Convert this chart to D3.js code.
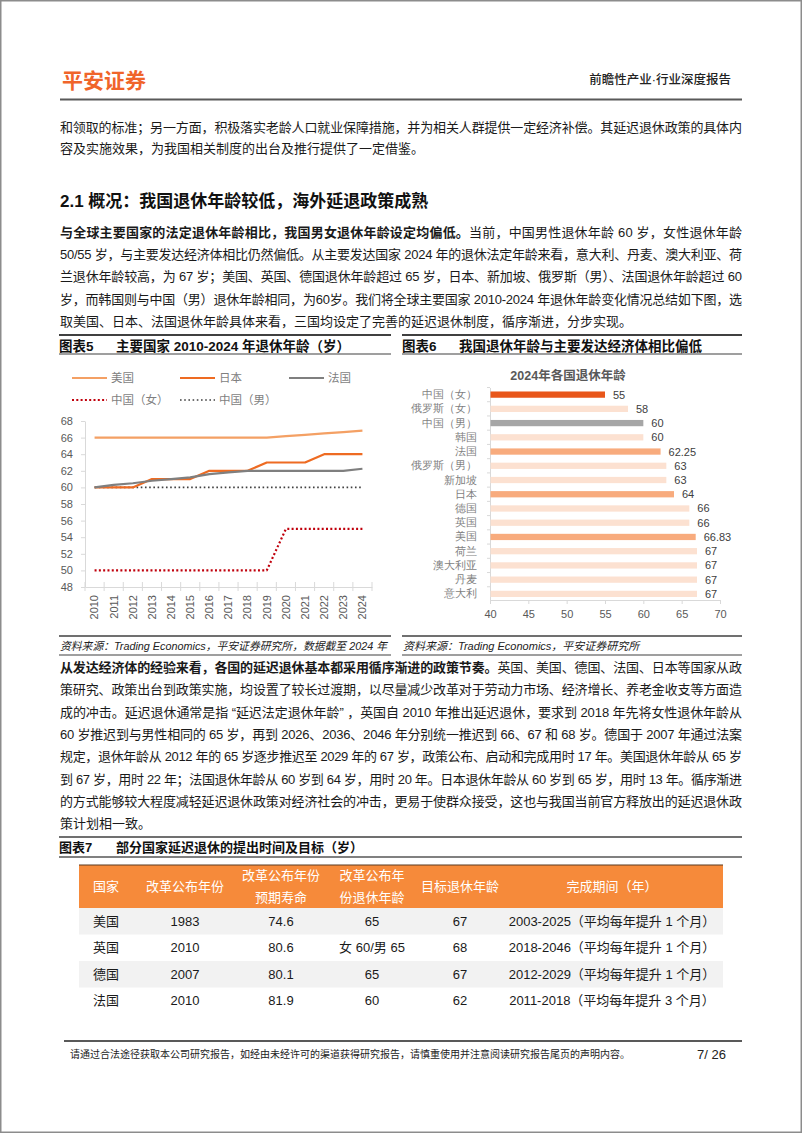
<!DOCTYPE html>
<html><head><meta charset="utf-8">
<script src="https://cdn.jsdelivr.net/npm/d3@7"></script>
<style>body{margin:0;background:#fff}svg{display:block}</style>
</head><body>
<script>
// ---------- data ----------
const years = ["2010","2011","2012","2013","2014","2015","2016","2017","2018","2019","2020","2021","2022","2023","2024"];
const usa    = [66,66,66,66,66,66,66,66,66,66,66.17,66.33,66.5,66.67,66.83];
const japan  = [60,60,60,61,61,61,62,62,62,63,63,63,64,64,64];
const france = [60,60.3,60.5,60.8,61,61.2,61.6,61.8,62,62,62,62,62,62,62.25];
const cnFemale = [50,50,50,50,50,50,50,50,50,50,55,55,55,55,55];
const cnMale   = [60,60,60,60,60,60,60,60,60,60,60,60,60,60,60];
const lineNames = ["美国","日本","法国","中国（女）","中国（男）"];
const yTicks = [48,50,52,54,56,58,60,62,64,66,68];

const barCats = ["中国（女）","俄罗斯（女）","中国（男）","韩国","法国","俄罗斯（男）","新加坡","日本","德国","英国","美国","荷兰","澳大利亚","丹麦","意大利"];
const barVals = [55,58,60,60,62.25,63,63,64,66,66,66.83,67,67,67,67];
const barTicks = [40,45,50,55,60,65,70];

const tblHead = [["国家"],["改革公布年份"],["改革公布年份","预期寿命"],["改革公布年","份退休年龄"],["目标退休年龄"],["完成期间（年）"]];
const tblCountry = ["美国","英国","德国","法国"];
const tblYear = ["1983","2010","2007","2010"];
const tblLife = ["74.6","80.6","80.1","81.9"];
const tblAge = ["65","女 60/男 65","65","60"];
const tblTarget = ["67","68","67","62"];
const tblPeriod = ["2003-2025（平均每年提升 1 个月）","2018-2046（平均每年提升 1 个月）","2012-2029（平均每年提升 1 个月）","2011-2018（平均每年提升 3 个月）"];

// ---------- page ----------
const W=802,H=1133;
const svg=d3.select("body").append("svg").attr("width",W).attr("height",H)
  .style("font-family","'Liberation Sans','Noto Sans CJK SC',sans-serif");
svg.append("rect").attr("x",0).attr("y",0).attr("width",W).attr("height",H).attr("fill","#fff");
svg.append("rect").attr("x",0.75).attr("y",0.75).attr("width",W-1.5).attr("height",H-1.5).attr("fill","none").attr("stroke","#8c8c8c").attr("stroke-width",1.5);

// header
svg.append("text").attr("x",62).attr("y",80).attr("dominant-baseline","central")
  .style("font-size","21px").style("font-weight","bold").attr("fill","#F0642A").text("平安证券");
svg.append("text").attr("x",731).attr("y",80).attr("dominant-baseline","central").attr("text-anchor","end")
  .style("font-size","12.5px").style("font-weight","500").attr("fill","#222").text("前瞻性产业·行业深度报告");
svg.append("line").attr("x1",60).attr("x2",742).attr("y1",99.5).attr("y2",99.5).attr("stroke","#595959").attr("stroke-width",2);

function textLine(y, parts, justify){
  const t=svg.append("text").attr("x",60).attr("y",y).attr("dominant-baseline","central")
    .style("font-size","13px").attr("fill","#1a1a1a");
  parts.forEach(p=>t.append("tspan").text(p[0]).style("font-weight",p[1]?"bold":"normal"));
  if(justify) t.attr("textLength",682).attr("lengthAdjust","spacing");
}
textLine(127,[["和领取的标准；另一方面，积极落实老龄人口就业保障措施，并为相关人群提供一定经济补偿。其延迟退休政策的具体内"]],true);
textLine(148,[["容及实施效果，为我国相关制度的出台及推行提供了一定借鉴。"]],false);

svg.append("text").attr("x",60).attr("y",201).attr("dominant-baseline","central")
  .style("font-size","17px").style("font-weight","bold").attr("fill","#111").text("2.1 概况：我国退休年龄较低，海外延退政策成熟");

textLine(232,[["与全球主要国家的法定退休年龄相比，我国男女退休年龄设定均偏低。",1],["当前，中国男性退休年龄 60 岁，女性退休年龄"]],true);
textLine(254,[["50/55 岁，与主要发达经济体相比仍然偏低。从主要发达国家 2024 年的退休法定年龄来看，意大利、丹麦、澳大利亚、荷"]],true);
textLine(276,[["兰退休年龄较高，为 67 岁；美国、英国、德国退休年龄超过 65 岁，日本、新加坡、俄罗斯（男）、法国退休年龄超过 60"]],true);
textLine(299,[["岁，而韩国则与中国（男）退休年龄相同，为60岁。我们将全球主要国家 2010-2024 年退休年龄变化情况总结如下图，选"]],true);
textLine(321,[["取美国、日本、法国退休年龄具体来看，三国均设定了完善的延迟退休制度，循序渐进，分步实现。"]],false);

function figTitle(x1,x2,yTop,num,title){
  svg.append("line").attr("x1",x1).attr("x2",x2).attr("y1",yTop).attr("y2",yTop).attr("stroke","#404040").attr("stroke-width",2);
  svg.append("line").attr("x1",x1).attr("x2",x2).attr("y1",yTop+19).attr("y2",yTop+19).attr("stroke","#404040").attr("stroke-width",1.2);
  svg.append("text").attr("x",x1).attr("y",yTop+11).attr("dominant-baseline","central")
    .style("font-size","13.5px").style("font-weight","bold").attr("fill","#111").text(num);
  svg.append("text").attr("x",x1+57).attr("y",yTop+11).attr("dominant-baseline","central")
    .style("font-size","13.5px").style("font-weight","bold").attr("fill","#111").text(title);
}
function source(x1,x2,yTop,txt,len){
  svg.append("line").attr("x1",x1).attr("x2",x2).attr("y1",yTop).attr("y2",yTop).attr("stroke","#404040").attr("stroke-width",1.5);
  svg.append("line").attr("x1",x1).attr("x2",x2).attr("y1",yTop+19).attr("y2",yTop+19).attr("stroke","#404040").attr("stroke-width",1.2);
  const t=svg.append("text").attr("x",x1+1).attr("y",yTop+10).attr("dominant-baseline","central")
    .style("font-size","11px").style("font-style","italic").attr("fill","#222").text(txt);
  if(len) t.attr("textLength",len).attr("lengthAdjust","spacingAndGlyphs");
}
figTitle(59,391,335,"图表5","主要国家 2010-2024 年退休年龄（岁）");
figTitle(402,742,335,"图表6","我国退休年龄与主要发达经济体相比偏低");
source(59,391,636,"资料来源：Trading Economics，平安证券研究所，数据截至 2024 年",327);
source(402,742,636,"资料来源：Trading Economics，平安证券研究所",null);

// ---------- chart 5: lines ----------
const g5=svg.append("g");
const xb=d3.scaleBand().domain(years).range([85,372]);
const xc=d=>xb(d)+xb.bandwidth()/2;
const y5=d3.scaleLinear().domain([48,68]).range([587,421]);
const styles={
  "美国":{c:"#F4A064",w:2.2,d:null},
  "日本":{c:"#EE6B22",w:2.2,d:null},
  "法国":{c:"#7F7F7F",w:2.2,d:null},
  "中国（女）":{c:"#C0000C",w:2.2,d:"2,2.3"},
  "中国（男）":{c:"#404040",w:1.6,d:"1.6,2.6"}
};
const seriesData={"美国":usa,"日本":japan,"法国":france,"中国（女）":cnFemale,"中国（男）":cnMale};

const ay=g5.append("g").attr("transform","translate(85,0)")
  .call(d3.axisLeft(y5).tickValues(yTicks).tickSize(4).tickSizeOuter(0).tickPadding(8));
ay.select(".domain").attr("stroke","#D9D9D9");
ay.selectAll(".tick line").attr("stroke","#D9D9D9");
ay.selectAll("text").style("font-size","11px").attr("fill","#595959").style("font-family","'Liberation Sans',sans-serif");
const ax=g5.append("g").attr("transform","translate(0,587)")
  .call(d3.axisBottom(xb).tickSize(0).tickSizeOuter(0));
ax.select(".domain").attr("stroke","#D9D9D9");
ax.selectAll("text").attr("transform","rotate(-90)").attr("x",-8).attr("y",0).attr("dy","0.35em")
  .style("text-anchor","end").style("font-size","11px").attr("fill","#595959").style("font-family","'Liberation Sans',sans-serif");
g5.selectAll("line.bt").data(years.concat(["end"])).join("line").attr("class","bt")
  .attr("x1",d=>d==="end"?xb.range()[1]:xb(d)).attr("x2",d=>d==="end"?xb.range()[1]:xb(d))
  .attr("y1",582).attr("y2",591).attr("stroke","#D9D9D9");

const lineGen=d3.line().x((d,i)=>xc(years[i])).y(d=>y5(d));
["中国（男）","中国（女）","美国","日本","法国"].forEach(n=>{
  const s=styles[n];
  g5.append("path").datum(seriesData[n]).attr("d",lineGen).attr("fill","none")
    .attr("stroke",s.c).attr("stroke-width",s.w).attr("stroke-dasharray",s.d).attr("stroke-linejoin","round");
});
const legPos=[[72,378],[180,378],[289,378],[72,400],[180,400]];
lineNames.forEach((n,i)=>{
  const s=styles[n],[lx,ly]=legPos[i];
  g5.append("line").attr("x1",lx).attr("x2",lx+35).attr("y1",ly).attr("y2",ly)
    .attr("stroke",s.c).attr("stroke-width",s.w).attr("stroke-dasharray",s.d);
  g5.append("text").attr("x",lx+39).attr("y",ly).attr("dominant-baseline","central")
    .style("font-size","11.5px").attr("fill","#7F7F7F").text(n);
});

// ---------- chart 6: bars ----------
const g6=svg.append("g");
const x6=d3.scaleLinear().domain([40,70]).range([490,720]);
const y6=d3.scaleBand().domain(barCats).range([387.5,601]).paddingInner(0.56).paddingOuter(0.28);
const barColor=n=> n==="中国（女）"?"#E8561A": n==="中国（男）"?"#A6A6A6": (["法国","日本","美国"].includes(n)?"#F8AB7D":"#FCE1D1");
g6.append("text").attr("x",568).attr("y",376).attr("text-anchor","middle").attr("dominant-baseline","central")
  .style("font-size","12.5px").style("font-weight","bold").attr("fill","#595959").text("2024年各国退休年龄");
const ax6=g6.append("g").attr("transform","translate(0,600)")
  .call(d3.axisBottom(x6).tickValues(barTicks).tickSize(4).tickSizeOuter(0).tickPadding(6));
ax6.select(".domain").attr("stroke","#D9D9D9");
ax6.selectAll(".tick line").attr("stroke","#D9D9D9");
ax6.selectAll("text").style("font-size","11px").attr("fill","#595959").style("font-family","'Liberation Sans',sans-serif");
const ay6=g6.append("g").attr("transform","translate(490,0)")
  .call(d3.axisLeft(y6).tickSize(0).tickPadding(13));
ay6.select(".domain").attr("stroke","#D9D9D9");
ay6.selectAll("text").style("font-size","11px").attr("fill","#7F7F7F");
const step6=y6.step();
g6.selectAll("line.ct").data(barCats).join("line").attr("class","ct")
  .attr("x1",487).attr("x2",490)
  .attr("y1",d=>y6(d)-y6.paddingInner()*step6/2).attr("y2",d=>y6(d)-y6.paddingInner()*step6/2)
  .attr("stroke","#D9D9D9");
g6.selectAll("rect.bar").data(barCats).join("rect").attr("class","bar")
  .attr("x",x6(40)+0.5).attr("y",d=>y6(d)).attr("height",y6.bandwidth())
  .attr("width",(d,i)=>x6(barVals[i])-x6(40)-0.5).attr("fill",d=>barColor(d));
g6.selectAll("text.val").data(barCats).join("text").attr("class","val")
  .attr("x",(d,i)=>x6(barVals[i])+8).attr("y",d=>y6(d)+y6.bandwidth()/2).attr("dominant-baseline","central")
  .style("font-size","11px").attr("fill","#404040").text((d,i)=>barVals[i]);

// ---------- paragraph 3 ----------
textLine(667,[["从发达经济体的经验来看，各国的延迟退休基本都采用循序渐进的政策节奏。",1],["英国、美国、德国、法国、日本等国家从政"]],true);
textLine(689,[["策研究、政策出台到政策实施，均设置了较长过渡期，以尽量减少改革对于劳动力市场、经济增长、养老金收支等方面造"]],true);
textLine(712,[["成的冲击。延迟退休通常是指 “延迟法定退休年龄” ，英国自 2010 年推出延迟退休，要求到 2018 年先将女性退休年龄从"]],true);
textLine(734,[["60 岁推迟到与男性相同的 65 岁，再到 2026、2036、2046 年分别统一推迟到 66、67 和 68 岁。德国于 2007 年通过法案"]],true);
textLine(756,[["规定，退休年龄从 2012 年的 65 岁逐步推迟至 2029 年的 67 岁，政策公布、启动和完成用时 17 年。美国退休年龄从 65 岁"]],true);
textLine(779,[["到 67 岁，用时 22 年；法国退休年龄从 60 岁到 64 岁，用时 20 年。日本退休年龄从 60 岁到 65 岁，用时 13 年。循序渐进"]],true);
textLine(801,[["的方式能够较大程度减轻延迟退休政策对经济社会的冲击，更易于使群众接受，这也与我国当前官方释放出的延迟退休政"]],true);
textLine(823,[["策计划相一致。"]],false);

// ---------- table ----------
svg.append("line").attr("x1",59).attr("x2",742).attr("y1",837).attr("y2",837).attr("stroke","#404040").attr("stroke-width",1.5);
svg.append("line").attr("x1",59).attr("x2",742).attr("y1",857).attr("y2",857).attr("stroke","#808080").attr("stroke-width",2);
svg.append("text").attr("x",59).attr("y",847).attr("dominant-baseline","central")
  .style("font-size","13px").style("font-weight","bold").attr("fill","#111").text("图表7");
svg.append("text").attr("x",116).attr("y",847).attr("dominant-baseline","central")
  .style("font-size","13px").style("font-weight","bold").attr("fill","#111").text("部分国家延迟退休的提出时间及目标（岁）");

const colX=[106,185,281,372,460,612];
const tL=79,tR=723,hTop=865,hBot=908,rowH=26.5;
svg.append("rect").attr("x",tL).attr("y",hTop).attr("width",tR-tL).attr("height",hBot-hTop).attr("fill","#F68A3A");
svg.append("line").attr("x1",tL).attr("x2",tR).attr("y1",hTop).attr("y2",hTop).attr("stroke","#5a3a20").attr("stroke-width",1.2);
tblHead.forEach((h,i)=>{
  h.forEach((s,j)=>{
    const yy = h.length===1 ? (hTop+hBot)/2 : (hTop+hBot)/2 + (j===0?-11:11);
    svg.append("text").attr("x",colX[i]).attr("y",yy).attr("text-anchor","middle").attr("dominant-baseline","central")
      .style("font-size","13px").attr("fill","#fff").text(s);
  });
});
const rows=tblCountry.map((c,i)=>[c,tblYear[i],tblLife[i],tblAge[i],tblTarget[i],tblPeriod[i]]);
rows.forEach((r,i)=>{
  const top=hBot+i*rowH;
  if(i%2===0) svg.append("rect").attr("x",tL).attr("y",top).attr("width",tR-tL).attr("height",rowH).attr("fill","#F2F2F2");
  r.forEach((v,j)=>{
    svg.append("text").attr("x",colX[j]).attr("y",top+rowH/2).attr("text-anchor","middle").attr("dominant-baseline","central")
      .style("font-size","13px").attr("fill","#1a1a1a").text(v);
  });
});

// ---------- footer ----------
svg.append("line").attr("x1",64).attr("x2",742).attr("y1",1041).attr("y2",1041).attr("stroke","#222").attr("stroke-width",1.5);
svg.append("text").attr("x",70).attr("y",1054).attr("dominant-baseline","central")
  .style("font-size","10px").attr("fill","#222").text("请通过合法途径获取本公司研究报告，如经由未经许可的渠道获得研究报告，请慎重使用并注意阅读研究报告尾页的声明内容。");
svg.append("text").attr("x",726).attr("y",1054).attr("text-anchor","end").attr("dominant-baseline","central")
  .style("font-size","13px").attr("fill","#222").text("7/ 26");
</script>
</body></html>
